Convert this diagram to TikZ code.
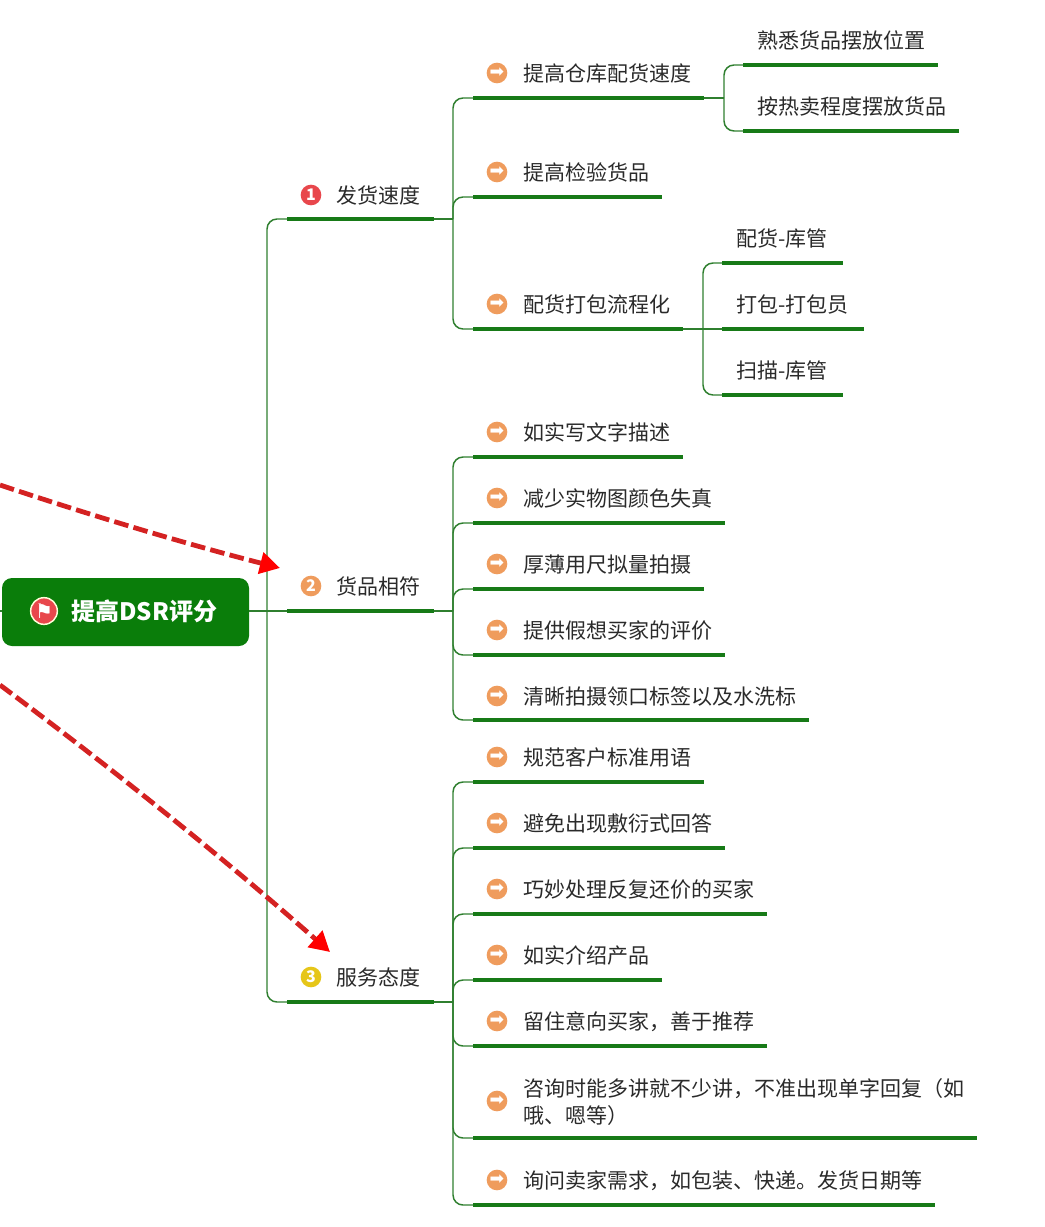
\documentclass[tikz,border=0pt]{standalone}
\usepackage{fontspec}
\setmainfont{Noto Sans CJK SC}
\newfontfamily\symfont{DejaVu Sans}
\usetikzlibrary{arrows.meta}
\definecolor{rootgreen}{HTML}{0A7D0A}
\definecolor{bargreen}{HTML}{177A17}
\definecolor{linkgreen}{HTML}{2F7F2F}
\definecolor{arrowred}{HTML}{D42222}
\definecolor{iconred}{HTML}{E8474C}
\definecolor{iconorange}{HTML}{EF9C5D}
\definecolor{iconyellow}{HTML}{E6C619}
\definecolor{textgray}{HTML}{2A2A2A}
\tikzset{
  rootbox/.style={rectangle, rounded corners=7.5pt, fill=rootgreen, minimum width=185.25pt, minimum height=51pt, inner sep=0pt, outer sep=0pt},
  roottext/.style={anchor=west, inner sep=0pt, text=white, font=\fontsize{18}{22}\selectfont\bfseries},
  flagicon/.style={circle, fill=iconred, draw=white!85!yellow, line width=1.1pt, minimum size=20pt, inner sep=0pt, text=white, font=\symfont\fontsize{15}{15}\selectfont},
  bar/.style={rectangle, anchor=west, fill=bargreen, minimum width=#1*0.75pt, minimum height=3pt, inner sep=0pt, outer sep=0pt},
  label/.style={anchor=west, inner sep=0pt, text=textgray, align=left, font=\fontsize{15.75}{20.25}\selectfont},
  numicon/.style={circle, fill=#1, minimum size=15.5pt, inner sep=0pt, text=white, font=\fontsize{12}{12}\selectfont\bfseries},
  arrowicon/.style={circle, fill=iconorange, minimum size=15.5pt, inner sep=0pt, text=white, font=\symfont\fontsize{13}{13}\selectfont},
  link/.style={draw=linkgreen, line width=1.1pt, rounded corners=7.5pt},
  redarrow/.style={draw=arrowred, line width=3.6pt, dash pattern=on 11pt off 4pt, -{Triangle[length=15pt, width=16pt, fill=red, color=red, sep=0pt]}},
}
\begin{document}
\begin{tikzpicture}[x=0.75pt, y=-0.75pt]
    \useasboundingbox (0,0) rectangle (1045,1227);

    % root
    \node[rootbox] (root) at (125.5,612) {};
    \node[flagicon] (flag) at (44,611) {⚑};
    \node[roottext] (roottitle) at (71,611.5) {提高DSR评分};
    \coordinate (stub) at (0,611);
    \coordinate (j0) at (267,611);

    % first level
    \node[bar=147] (b1) at (287,219) {};
    \node[bar=147] (b2) at (287,611) {};
    \node[bar=147] (b3) at (287,1002) {};
    \node[numicon=iconred] (n1) at (311,195) {1};
    \node[numicon=iconorange] (n2) at (311,586) {2};
    \node[numicon=iconyellow] (n3) at (311,977) {3};
    \node[label] (t1) at (336,195.5) {发货速度};
    \node[label] (t2) at (336,586.5) {货品相符};
    \node[label] (t3) at (336,977.5) {服务态度};
    \coordinate (j1) at (453,219);
    \coordinate (j2) at (453,611);
    \coordinate (j3) at (453,1002);

    % second level, first group
    \node[bar=231] (b11) at (473,98) {};
    \node[bar=189] (b12) at (473,197) {};
    \node[bar=210] (b13) at (473,329) {};
    \node[arrowicon] (i11) at (497,73) {➡};
    \node[arrowicon] (i12) at (497,172) {➡};
    \node[arrowicon] (i13) at (497,304) {➡};
    \node[label] (t11) at (523,73.7) {提高仓库配货速度};
    \node[label] (t12) at (523,172.7) {提高检验货品};
    \node[label] (t13) at (523,304.7) {配货打包流程化};
    \coordinate (j11) at (724,98);
    \coordinate (j13) at (703,329);

    % third level
    \node[bar=195] (b111) at (743,65) {};
    \node[bar=216] (b112) at (743,131) {};
    \node[label] (t111) at (757,40.7) {熟悉货品摆放位置};
    \node[label] (t112) at (757,106.7) {按热卖程度摆放货品};
    \node[bar=121] (b131) at (722,263) {};
    \node[bar=142] (b132) at (722,329) {};
    \node[bar=121] (b133) at (722,395) {};
    \node[label] (t131) at (736,238.7) {配货-库管};
    \node[label] (t132) at (736,304.7) {打包-打包员};
    \node[label] (t133) at (736,370.7) {扫描-库管};

    % second level, second group
    \node[bar=210] (b21) at (473,457) {};
    \node[bar=252] (b22) at (473,523) {};
    \node[bar=231] (b23) at (473,589) {};
    \node[bar=252] (b24) at (473,655) {};
    \node[bar=336] (b25) at (473,720) {};
    \node[arrowicon] (i21) at (497,432) {➡};
    \node[arrowicon] (i22) at (497,498) {➡};
    \node[arrowicon] (i23) at (497,564) {➡};
    \node[arrowicon] (i24) at (497,630) {➡};
    \node[arrowicon] (i25) at (497,696) {➡};
    \node[label] (t21) at (523,432.7) {如实写文字描述};
    \node[label] (t22) at (523,498.7) {减少实物图颜色失真};
    \node[label] (t23) at (523,564.7) {厚薄用尺拟量拍摄};
    \node[label] (t24) at (523,630.7) {提供假想买家的评价};
    \node[label] (t25) at (523,696.7) {清晰拍摄领口标签以及水洗标};

    % second level, third group
    \node[bar=231] (b31) at (473,782) {};
    \node[bar=252] (b32) at (473,848) {};
    \node[bar=294] (b33) at (473,914) {};
    \node[bar=189] (b34) at (473,980) {};
    \node[bar=294] (b35) at (473,1046) {};
    \node[bar=504] (b36) at (473,1138) {};
    \node[bar=462] (b37) at (473,1205) {};
    \node[arrowicon] (i31) at (497,757) {➡};
    \node[arrowicon] (i32) at (497,823) {➡};
    \node[arrowicon] (i33) at (497,889) {➡};
    \node[arrowicon] (i34) at (497,955) {➡};
    \node[arrowicon] (i35) at (497,1021) {➡};
    \node[arrowicon] (i36) at (497,1101) {➡};
    \node[arrowicon] (i37) at (497,1180) {➡};
    \node[label] (t31) at (523,757.7) {规范客户标准用语};
    \node[label] (t32) at (523,823.7) {避免出现敷衍式回答};
    \node[label] (t33) at (523,889.7) {巧妙处理反复还价的买家};
    \node[label] (t34) at (523,955.7) {如实介绍产品};
    \node[label] (t35) at (523,1021.7) {留住意向买家，善于推荐};
    \node[label] (t36) at (523,1101.7) {咨询时能多讲就不少讲，不准出现单字回复（如\\哦、嗯等）};
    \node[label] (t37) at (523,1180.7) {询问卖家需求，如包装、快递。发货日期等};

    % connectors
    \draw[link] (stub) -- (root.west |- stub);
    \draw[link] (root.east |- b2.west) -- (b2.west);
    \draw[link] (j0) |- (b1.west);
    \draw[link] (j0) |- (b3.west);
    \draw[link] (b1.east) -- (j1);
    \draw[link] (b2.east) -- (j2);
    \draw[link] (b3.east) -- (j3);
    \draw[link] (j1) |- (b11.west);
    \draw[link] (j1) |- (b12.west);
    \draw[link] (j1) |- (b13.west);
    \draw[link] (b11.east) -- (j11);
    \draw[link] (j11) |- (b111.west);
    \draw[link] (j11) |- (b112.west);
    \draw[link] (b13.east) -- (b132.west);
    \draw[link] (j13) |- (b131.west);
    \draw[link] (j13) |- (b133.west);
    \draw[link] (j2) |- (b21.west);
    \draw[link] (j2) |- (b22.west);
    \draw[link] (j2) |- (b23.west);
    \draw[link] (j2) |- (b24.west);
    \draw[link] (j2) |- (b25.west);
    \draw[link] (j3) |- (b31.west);
    \draw[link] (j3) |- (b32.west);
    \draw[link] (j3) |- (b33.west);
    \draw[link] (j3) |- (b34.west);
    \draw[link] (j3) |- (b35.west);
    \draw[link] (j3) |- (b36.west);
    \draw[link] (j3) |- (b37.west);

    % red arrows
    \coordinate (s1) at (0,485);
    \coordinate (c1a) at (93,516);
    \coordinate (c1b) at (186,544);
    \coordinate (e1) at (280,568);
    \coordinate (s2) at (0,685);
    \coordinate (c2a) at (110,767);
    \coordinate (c2b) at (220,855);
    \coordinate (e2) at (330,952);
    \draw[redarrow] (s1) .. controls (c1a) and (c1b) .. (e1);
    \draw[redarrow] (s2) .. controls (c2a) and (c2b) .. (e2);
\end{tikzpicture}
\end{document}
